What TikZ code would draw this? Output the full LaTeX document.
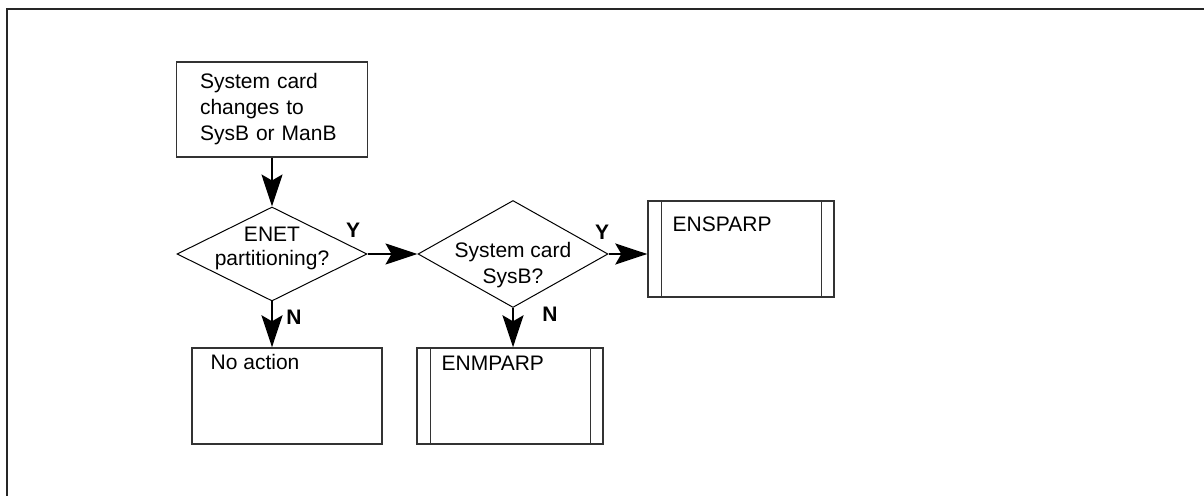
\documentclass[tikz,border=0pt]{standalone}
\usepackage{fontspec}
\setmainfont{Liberation Sans}
\usetikzlibrary{positioning,arrows.meta,shapes.geometric}

\begin{document}
\begin{tikzpicture}[x=0.5pt,y=-0.5pt,font=\fontsize{10.5}{13}\selectfont,
  box/.style={draw=black!80,line width=0.7pt,inner sep=0pt},
  boxline/.style={draw=black!80,line width=0.7pt},
  boxtext/.style={anchor=base west,inner sep=0pt},
  decision/.style={diamond,draw,line width=0.5pt,inner sep=0pt,minimum width=95pt},
  yn/.style={font=\fontsize{10.5}{12}\selectfont\bfseries,inner sep=0pt},
  arr/.style={-{Stealth[length=16pt,width=10.5pt,inset=3pt]},line width=1pt}]
\useasboundingbox (0,0) rectangle (1204,496);
% frame
\draw[line width=1pt,black!85] (6.5,496) -- (6.5,9.5) -- (1204,9.5);
% boxes
\node[box,minimum width=95.5pt,minimum height=47.5pt,text width=72pt,align=left] (chg) at (272,109.5) {System card\\changes to\\SysB or ManB};
\node[decision,minimum height=47pt,label={[align=center,font=\fontsize{10.5}{12}\selectfont,yshift=3pt]center:ENET\\partitioning?}] (part) at (272,254) {};
\node[decision,minimum height=53.5pt,label={[align=center,yshift=-5.5pt]center:System card\\SysB?}] (sysb) at (513,254) {};
\node[box,minimum width=95pt,minimum height=48pt] (noact) at (287,396) {};
\node[box,minimum width=93pt,minimum height=48pt] (enm) at (510,396) {};
\node[box,minimum width=93pt,minimum height=48pt] (ens) at (741,249) {};
\foreach \b in {enm,ens}{
  \draw[boxline] ([xshift=7pt]\b.north west) -- ([xshift=7pt]\b.south west);
  \draw[boxline] ([xshift=-6.5pt]\b.north east) -- ([xshift=-6.5pt]\b.south east);
}
\node[boxtext] (noact-t) at ([xshift=9.5pt,yshift=-11.3pt]noact.north west) {No action};
\node[boxtext] (enm-t) at ([xshift=12.5pt,yshift=-11.5pt]enm.north west) {ENMPARP};
\node[boxtext] (ens-t) at ([xshift=12.5pt,yshift=-15.5pt]ens.north west) {ENSPARP};
% Y / N labels
\node[yn] (y1) at (353,230) {Y};
\node[yn] (n1) at (294,317) {N};
\node[yn] (y2) at (602,232) {Y};
\node[yn] (n2) at (550,314) {N};
% arrows
\draw[arr] (chg.south) -- (part.north);
\draw[arr] (part.east) -- (sysb.west);
\draw[arr] (sysb.east) -- (sysb.east -| ens.west);
\draw[arr] (part.south) -- (part.south |- noact.north);
\draw[arr] (sysb.south) -- (sysb.south |- enm.north);
\end{tikzpicture}
\end{document}
